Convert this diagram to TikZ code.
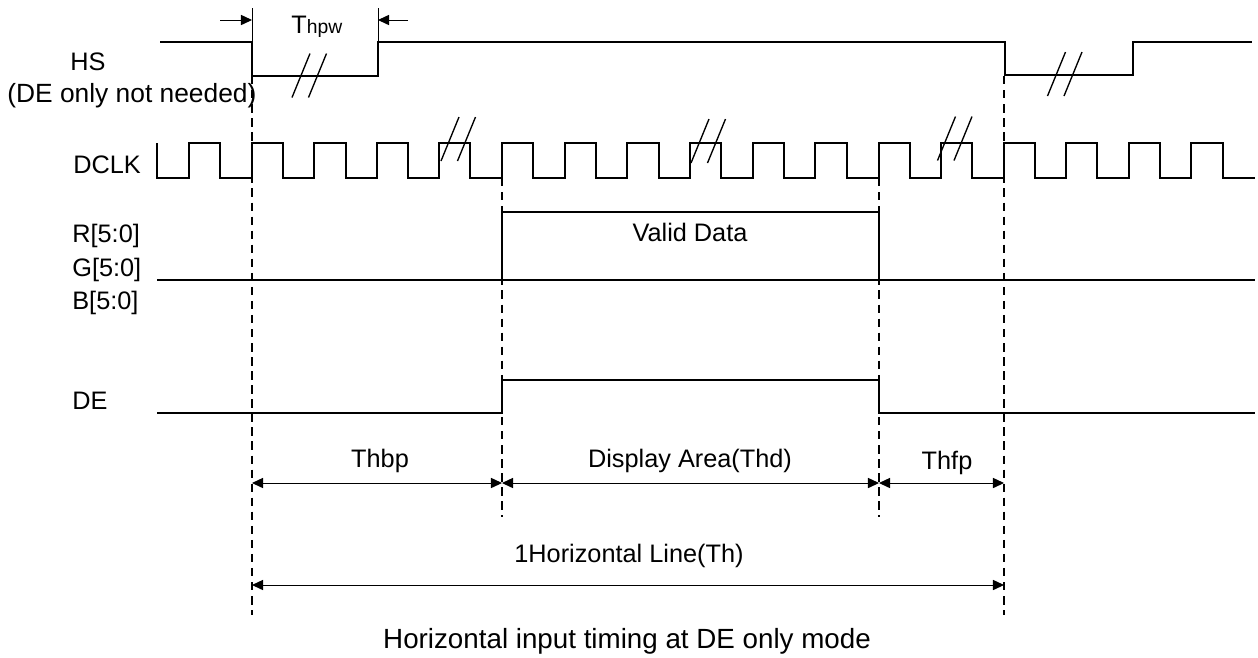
\documentclass[tikz,border=0pt]{standalone}
\usepackage{fontspec}
\setmainfont{Liberation Sans}
\usetikzlibrary{arrows.meta}
\def\brk(#1,#2){\draw[line width=0.27mm] (#1-9,#2+22) -- (#1+9,#2-22); \draw[line width=0.27mm] (#1+7.5,#2+22) -- (#1+25.5,#2-22);}

\begin{document}
\begin{tikzpicture}[x=0.02cm, y=-0.02cm,
	font=\fontsize{14.4}{17}\selectfont,
	sig/.style={line width=0.42mm},
	grid/.style={line width=0.3mm, dash pattern=on 4.8pt off 3.2pt},
	dim/.style={line width=0.2mm, {Triangle[length=6.3pt,width=5.8pt]}-{Triangle[length=6.3pt,width=5.8pt]}},
	lab/.style={anchor=base west, inner sep=0pt}]
	%%%%% START %%%%%
	\useasboundingbox (0,0) rectangle (1258,657);
	
	% signal names
	\node[lab] (hs) at (70,70) {HS};
	\node[lab, font=\fontsize{15}{18}\selectfont] (hsnote) at (7,102) {(DE only not needed)};
	\node[lab] (dclk) at (73,173) {DCLK};
	\node[lab] (r) at (72,242) {R[5:0]};
	\node[lab] (g) at (72,276) {G[5:0]};
	\node[lab] (b) at (72,309) {B[5:0]};
	\node[lab] (de) at (72,409) {DE};
	
	% HS
	\draw[sig] (160,42) -- (252,42) -- (252,76) -- (378,76) -- (378,42) -- (1005,42) -- (1005,75) -- (1133,75) -- (1133,42) -- (1252,42);
	\brk(301,75.5)
	\brk(1056.5,74)
	
	% Thpw
	\draw[line width=0.2mm] (252,8) -- (252,42);
	\draw[line width=0.2mm] (378,8) -- (378,42);
	\coordinate (pwl) at (252,20);
	\coordinate (pwr) at (378,20);
	\draw[line width=0.2mm, -{Triangle[length=6.3pt,width=5.8pt]}] (220,20) -- (pwl);
	\draw[line width=0.2mm, -{Triangle[length=6.3pt,width=5.8pt]}] (408,20) -- (pwr);
	\node[anchor=base west, inner sep=0pt] (thpw) at (291,33) {T{\fontsize{11}{13}\selectfont hpw}};
	
	% DCLK
	\draw[sig] (157,143) -- (157,178) -- (189,178) -- (189,143) -- (220,143) -- (220,178)
		-- (252,178) -- (252,143) -- (283,143) -- (283,178)
		-- (314,178) -- (314,143) -- (346,143) -- (346,178)
		-- (377,178) -- (377,143) -- (408,143) -- (408,178)
		-- (439,178) -- (439,143) -- (470,143) -- (470,178)
		-- (502,178) -- (502,143) -- (533,143) -- (533,178)
		-- (565,178) -- (565,143) -- (596,143) -- (596,178)
		-- (627,178) -- (627,143) -- (659,143) -- (659,178)
		-- (690,178) -- (690,143) -- (721,143) -- (721,178)
		-- (753,178) -- (753,143) -- (784,143) -- (784,178)
		-- (815,178) -- (815,143) -- (847,143) -- (847,178)
		-- (879,178) -- (879,143) -- (910,143) -- (910,178)
		-- (941,178) -- (941,143) -- (972,143) -- (972,178)
		-- (1004,178) -- (1004,143) -- (1035,143) -- (1035,178)
		-- (1066,178) -- (1066,143) -- (1097,143) -- (1097,178)
		-- (1129,178) -- (1129,143) -- (1160,143) -- (1160,178)
		-- (1191,178) -- (1191,143) -- (1223,143) -- (1223,178) -- (1255,178);
	\brk(450,139)
	\brk(700,141)
	\brk(946.5,138.5)
	
	% RGB data
	\draw[sig] (157,280) -- (1255,280);
	\draw[sig] (502,280) -- (502,212) -- (879,212) -- (879,280);
	\node[anchor=base] (valid) at (690,241) {Valid Data};
	
	% DE
	\draw[sig] (157,413) -- (502,413) -- (502,380) -- (879,380) -- (879,413) -- (1255,413);
	
	% dashed guides
	\draw[grid] (252,76) -- (252,615);
	\draw[grid] (502,178) -- (502,517);
	\draw[grid] (879,178) -- (879,517);
	\draw[grid] (1004,76) -- (1004,615);
	
	% periods
	\coordinate (a1) at (252,483);
	\coordinate (a2) at (502,483);
	\coordinate (a3) at (879,483);
	\coordinate (a4) at (1004,483);
	\coordinate (l1) at (252,585);
	\coordinate (l2) at (1004,585);
	\draw[dim] (a1) -- (a2);
	\draw[dim] (a2) -- (a3);
	\draw[dim] (a3) -- (a4);
	\draw[dim] (l1) -- (l2);
	\node[anchor=base] (thbp) at (380,467) {Thbp};
	\node[anchor=base] (thd) at (690,467) {Display Area(Thd)};
	\node[anchor=base] (thfp) at (947,469) {Thfp};
	\node[anchor=base] (th) at (629,562) {1Horizontal Line(Th)};
	
	\node[anchor=base, font=\fontsize{15.8}{19}\selectfont] (cap) at (627,648) {Horizontal input timing at DE only mode};
	
	%%%%% END %%%%%
\end{tikzpicture}
\end{document}
